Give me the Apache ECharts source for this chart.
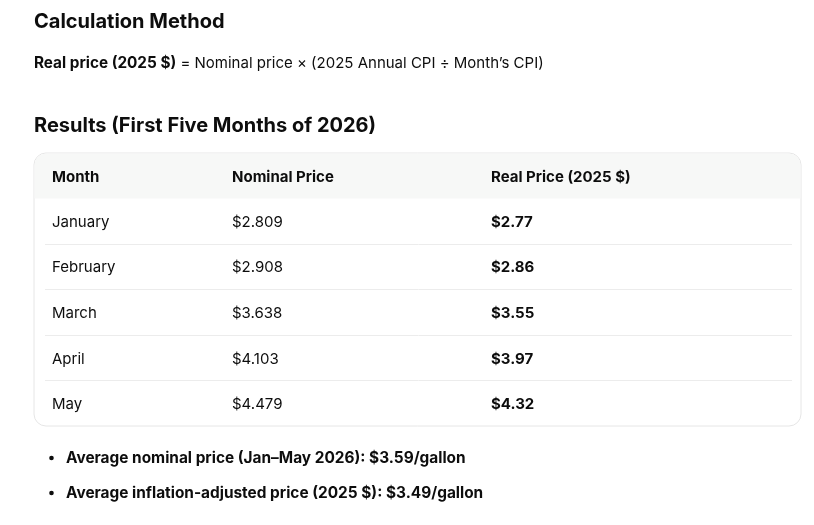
<!DOCTYPE html>
<html>
<head>
<meta charset="utf-8">
<script src="https://cdn.jsdelivr.net/npm/echarts@6/dist/echarts.min.js"></script>
<style>
  html, body { margin: 0; padding: 0; background: #fff; }
  #main { width: 814px; height: 525px; }
</style>
</head>
<body>
<div id="main"></div>
<script>
var headers = ['Month', 'Nominal Price', 'Real Price (2025 $)'];
var months = ['January', 'February', 'March', 'April', 'May'];
var nominal = [2.809, 2.908, 3.638, 4.103, 4.479];
var real = [2.77, 2.86, 3.55, 3.97, 4.32];
var notes = [
    'Average nominal price (Jan\u2013May 2026): $3.59/gallon',
    'Average inflation-adjusted price (2025 $): $3.49/gallon'
];

var FONT = 'Inter, "Noto Sans", sans-serif';
var INK = '#0d0d0d';
var colX = [52, 232, 491];
var box = { x: 34, y: 153, w: 767, h: 273 };
var headH = 45;
var rowH = 45.6;

var chart = echarts.init(document.getElementById('main'));

var els = [];

els.push({
    type: 'text', left: 34, top: 12,
    style: { text: 'Calculation Method', font: 'bold 20px ' + FONT, fill: INK }
});
els.push({
    type: 'text', left: 34, top: 56,
    style: {
        text: '{b|Real price (2025 $)} = Nominal price \u00d7 (2025 Annual CPI \u00f7 Month\u2019s CPI)',
        font: '15px ' + FONT, fill: INK,
        rich: { b: { font: 'bold 15.3px ' + FONT, fill: INK } }
    }
});
els.push({
    type: 'text', left: 34, top: 116,
    style: { text: 'Results (First Five Months of 2026)', font: 'bold 20px ' + FONT, fill: INK }
});

// table frame + header band
els.push({
    type: 'rect', shape: { x: box.x, y: box.y, width: box.w, height: box.h, r: 12 },
    style: { fill: '#fff', stroke: '#e6e6e6', lineWidth: 1 }
});
els.push({
    type: 'rect', shape: { x: box.x + 0.5, y: box.y + 0.5, width: box.w - 1, height: headH, r: [12, 12, 0, 0] },
    style: { fill: '#f7f8f7' }
});

headers.forEach(function (h, i) {
    els.push({
        type: 'text', x: colX[i], y: box.y + headH / 2 + 1.5,
        style: { text: h, font: 'bold 15px ' + FONT, fill: INK, verticalAlign: 'middle' }
    });
});

months.forEach(function (m, r) {
    var cy = box.y + headH + rowH * r + rowH / 2 + 1.5;
    if (r > 0) {
        var ly = Math.round(box.y + headH + rowH * r) + 0.5;
        els.push({
            type: 'line', shape: { x1: 45, y1: ly, x2: 792, y2: ly },
            style: { stroke: '#ececec', lineWidth: 1 }
        });
    }
    var cells = [m, '$' + nominal[r].toFixed(3), '$' + real[r].toFixed(2)];
    cells.forEach(function (c, i) {
        els.push({
            type: 'text', x: colX[i], y: cy,
            style: {
                text: c, font: (i === 2 ? 'bold ' : '') + '15px ' + FONT,
                fill: INK, verticalAlign: 'middle'
            }
        });
    });
});

notes.forEach(function (n, i) {
    var cy = 458 + i * 35;
    els.push({ type: 'circle', shape: { cx: 51.5, cy: cy, r: 2.3 }, style: { fill: INK } });
    els.push({
        type: 'text', x: 66, y: cy,
        style: { text: n, font: 'bold 15.4px ' + FONT, fill: INK, verticalAlign: 'middle' }
    });
});

chart.setOption({
    backgroundColor: '#fff',
    animation: false,
    graphic: { elements: els }
});

window.addEventListener('resize', function () {
    chart.resize();
});
</script>
</body>
</html>
